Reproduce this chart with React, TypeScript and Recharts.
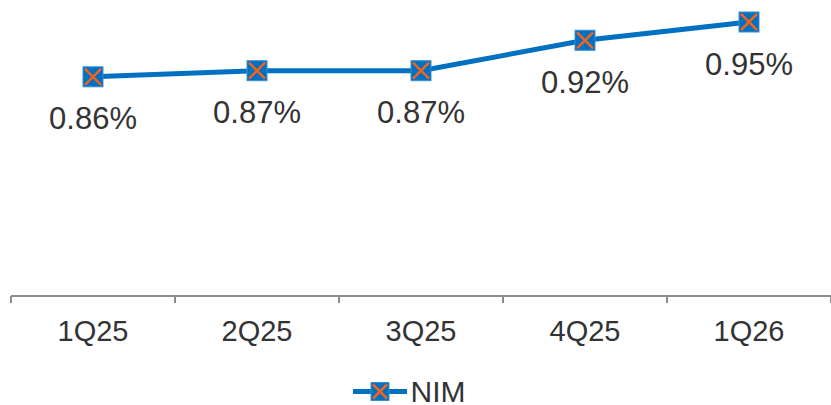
import React from "react";
import { LineChart, Line, XAxis, YAxis, LabelList, Legend } from "recharts";

// Quarterly net interest margin (%)
const quarters = ["1Q25", "2Q25", "3Q25", "4Q25", "1Q26"];
const nimValues = [0.86, 0.87, 0.87, 0.92, 0.95];
const yDomain = [0.5, 0.95];

const BLUE = "#0070C0";
const ORANGE = "#F0641E";
const TEXT = "#333333";
const AXIS = "#8C8C8C";

// Category slots sit between integer boundaries; points are drawn at slot centres.
const data = quarters.map((q, i) => ({ x: i + 0.5, quarter: q, nim: nimValues[i] }));
const boundaryTicks = quarters.flatMap((_, i) => [i, i + 0.5]).concat([quarters.length]);

const Marker = ({ cx, cy, size = 20 }: { cx: number; cy: number; size?: number }) => {
  const h = size / 2;
  return (
    <g>
      <rect x={cx - h} y={cy - h} width={size} height={size} fill={BLUE} stroke="#3C8FD0" strokeWidth={1} />
      <line x1={cx - h + 2} y1={cy - h + 2} x2={cx + h - 2} y2={cy + h - 2} stroke={ORANGE} strokeWidth={2.5} />
      <line x1={cx - h + 2} y1={cy + h - 2} x2={cx + h - 2} y2={cy - h + 2} stroke={ORANGE} strokeWidth={2.5} />
    </g>
  );
};

const Dot = (props: any) => {
  const { cx, cy, index } = props;
  if (cx == null || cy == null) return <g key={index} />;
  return <Marker key={index} cx={cx} cy={cy} />;
};

const XTick = (props: any) => {
  const { x, y, payload } = props;
  const v = payload.value as number;
  if (Number.isInteger(v)) {
    return <line x1={x} x2={x} y1={y} y2={y + 7} stroke={AXIS} strokeWidth={2} />;
  }
  const label = quarters[Math.floor(v)];
  return (
    <text x={x} y={y + 35} textAnchor="middle" dominantBaseline="central" fill={TEXT} fontSize={29}>
      {label}
    </text>
  );
};

const ValueLabel = (props: any) => {
  const { x, y, value } = props;
  return (
    <text x={x} y={y + 42} textAnchor="middle" dominantBaseline="central" fill={TEXT} fontSize={31}>
      {`${Number(value).toFixed(2)}%`}
    </text>
  );
};

const LegendContent = () => (
  <div
    style={{
      display: "flex",
      justifyContent: "center",
      alignItems: "center",
      height: 39,
      paddingTop: 12,
      boxSizing: "border-box",
      marginLeft: -24,
    }}
  >
    <svg width={54} height={27}>
      <line x1={0} x2={54} y1={13.5} y2={13.5} stroke={BLUE} strokeWidth={5} />
      <Marker cx={27} cy={13.5} size={18} />
    </svg>
    <span style={{ fontSize: 30, color: TEXT, marginLeft: 4, lineHeight: "27px" }}>NIM</span>
  </div>
);

export default function App() {
  return (
    <div style={{ position: "absolute", left: 0, top: 0, fontFamily: "Liberation Sans, Arial, sans-serif" }}>
      <LineChart width={831} height={405} data={data} margin={{ top: 22, right: 0, bottom: 0, left: 11 }}>
        <XAxis
          dataKey="x"
          type="number"
          domain={[0, quarters.length]}
          ticks={boundaryTicks}
          interval={0}
          tickLine={false}
          tickSize={0}
          tickMargin={0}
          tick={<XTick />}
          axisLine={{ stroke: AXIS, strokeWidth: 2 }}
          height={70}
        />
        <YAxis hide domain={yDomain} />
        <Legend
          verticalAlign="bottom"
          content={<LegendContent />}
          wrapperStyle={{ height: 39 }}
        />
        <Line
          dataKey="nim"
          name="NIM"
          stroke={BLUE}
          strokeWidth={5}
          dot={<Dot />}
          activeDot={false}
          isAnimationActive={false}
        >
          <LabelList dataKey="nim" content={<ValueLabel />} />
        </Line>
      </LineChart>
    </div>
  );
}
